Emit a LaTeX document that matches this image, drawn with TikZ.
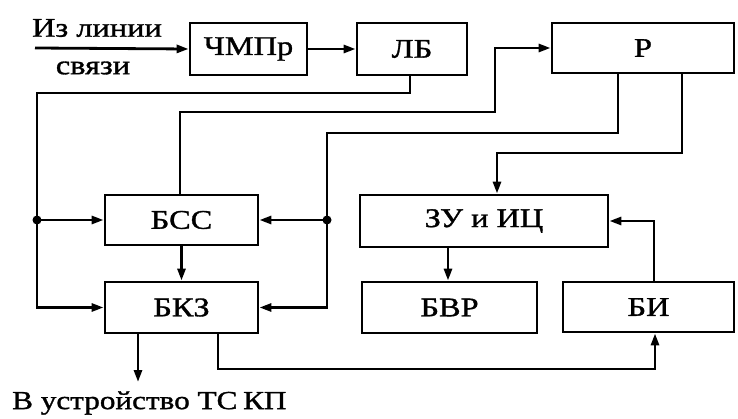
\documentclass[tikz,border=0pt]{standalone}
\usepackage{fontspec}
\setmainfont{Liberation Serif}[FakeStretch=1.2,FakeBold=1.2]
\usetikzlibrary{arrows.meta}
\begin{document}
\begin{tikzpicture}[x=1pt,y=-1pt,
  blk/.style={draw,line width=2.8pt,inner sep=0pt,font=\fontsize{27}{30}\selectfont},
  arr/.style={line width=2.8pt,-{Triangle[length=12pt,width=8pt]}},
  lbl/.style={font=\fontsize{27}{30}\selectfont,inner sep=0pt}]
\useasboundingbox (0,0) rectangle (738,419);
\node[blk,minimum width=117pt,minimum height=52pt] (chm) at (248.5,49) {ЧМПр};
\node[blk,minimum width=110pt,minimum height=52pt] (lb) at (412,49) {ЛБ};
\node[blk,minimum width=182pt,minimum height=50pt] (r) at (643,48) {Р};
\node[blk,minimum width=153pt,minimum height=50pt] (bss) at (181.5,220) {БСС};
\node[blk,minimum width=153pt,minimum height=51pt] (bkz) at (181.5,307.5) {БКЗ};
\node[blk,minimum width=248pt,minimum height=52pt] (zu) at (484,221) {ЗУ и ИЦ};
\node[blk,minimum width=175pt,minimum height=51pt] (bvr) at (449.5,307.5) {БВР};
\node[blk,minimum width=171pt,minimum height=50pt] (bi) at (648.5,307) {БИ};
\node[lbl] (t1) at (97,28) {Из линии};
\node[lbl] (t2) at (93,68) {связи};
\node[lbl,anchor=west,font=\fontsize{26}{30}\selectfont] (t3) at (12,403) {В устройство ТС\hspace{0.22em}КП};
\coordinate (in) at (35,48);
\coordinate (out) at (138,382);
\coordinate (dl) at (37,220);
\coordinate (dr) at (327,220);
% input chain
\draw[arr] (in) -- (chm.west);
\draw[arr] (chm.east) -- (lb.west);
% LB to left trunk
\draw[arr] (lb.south -| 410,0) -- (410,93) -- (37,93) -- (37,307.5) -- (bkz.west);
\draw[arr] (dl) -- (bss.west);
\fill (dl) circle (4.5pt);
% BSS to R
\draw[arr] (bss.north -| 180,0) -- (180,112) -- (495,112) -- (495,48) -- (r.west);
% R to right trunk
\draw[arr] (r.south -| 618,0) -- (618,133) -- (327,133) -- (327,307.5) -- (bkz.east);
\draw[arr] (dr) -- (bss.east);
\fill (dr) circle (4.5pt);
% R to ZU
\draw[arr] (r.south -| 682,0) -- (682,153) -- (497,153) -- (zu.north -| 497,0);
% BSS to BKZ
\draw[arr] (bss.south) -- (bkz.north);
% ZU to BVR
\draw[arr] (zu.south -| 448,0) -- (bvr.north -| 448,0);
% BI to ZU
\draw[arr] (bi.north -| 654,0) -- (654,221) -- (zu.east);
% BKZ to BI
\draw[arr] (bkz.south -| 218,0) -- (218,369) -- (655,369) -- (bi.south -| 655,0);
% BKZ out
\draw[arr] (bkz.south -| out) -- (out);
\end{tikzpicture}
\end{document}
